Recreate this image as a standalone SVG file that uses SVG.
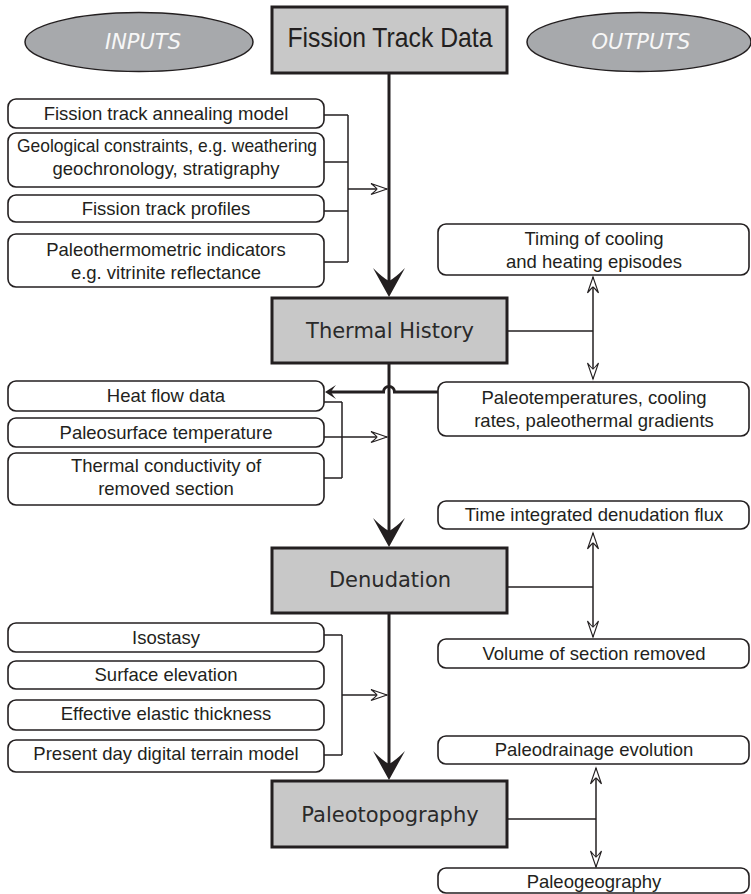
<svg xmlns="http://www.w3.org/2000/svg" width="751" height="894" viewBox="0 0 751 894">
<style>
.main rect{fill:#c8c8c8;stroke:#231f20;stroke-width:3}
.main text{font-family:"DejaVu Sans",Verdana,sans-serif;font-size:21px;fill:#2a2a2a;text-anchor:middle}
.box rect{fill:#fff;stroke:#231f20;stroke-width:1.6}
.box text{font-family:"Liberation Sans",Arial,sans-serif;font-size:18.5px;fill:#231f20;text-anchor:middle}
.oval ellipse{fill:#a7a9ac;stroke:#231f20;stroke-width:1.5}
.oval text{font-family:"DejaVu Sans",Verdana,sans-serif;font-style:italic;font-size:21px;fill:#f7f7f7;text-anchor:middle}
.thick{stroke:#231f20;stroke-width:3;fill:none}
.thin{stroke:#231f20;stroke-width:1.5;fill:none}
</style>
<defs>
<marker id="big" markerUnits="userSpaceOnUse" viewBox="-30 -17 32 34" markerWidth="32" markerHeight="34" refX="-10" refY="0" orient="auto">
<path d="M0,0 L-29,-16 Q-19,-6 -16,0 Q-19,6 -29,16 Z" fill="#231f20"/>
</marker>
<marker id="small" markerUnits="userSpaceOnUse" viewBox="-12 -8 13 16" markerWidth="13" markerHeight="16" refX="-4" refY="0" orient="auto">
<path d="M0,0 L-11,-7 Q-7,-2 -6,0 Q-7,2 -11,7 Z" fill="#231f20"/>
</marker>
<marker id="open" markerUnits="userSpaceOnUse" viewBox="-18 -7 20 14" markerWidth="20" markerHeight="14" refX="0" refY="0" orient="auto-start-reverse">
<path d="M0,0 L-16,-5.5 Q-11,-1.5 -10,0 Q-11,1.5 -16,5.5 Z" fill="#fff" stroke="#231f20" stroke-width="1.1"/>
</marker>
</defs>

<g id="connectors">
<path class="thick" d="M389,73 V287" marker-end="url(#big)"/>
<path class="thick" d="M389,363 V537" marker-end="url(#big)"/>
<path class="thick" d="M389,613 V770" marker-end="url(#big)"/>
<path class="thin" d="M324,115 H348 M324,162 H348 M324,211 H348 M324,262 H348 M348,115 V262"/>
<path class="thin" d="M348,189 H387" marker-end="url(#open)"/>
<path class="thick" d="M438,392 H394.5 A5.5,5.5 0 0 0 383.5,392 H329" marker-end="url(#small)"/>
<path class="thin" d="M324,402 H342 M324,478 H342 M342,402 V478"/>
<path class="thin" d="M324,437 H387" marker-end="url(#open)"/>
<path class="thin" d="M324,635 H342 M324,755 H342 M342,635 V755"/>
<path class="thin" d="M342,695 H387" marker-end="url(#open)"/>
<path class="thin" d="M507,331 H593"/>
<path class="thin" d="M593,277 V379" marker-start="url(#open)" marker-end="url(#open)"/>
<path class="thin" d="M507,587 H593"/>
<path class="thin" d="M593,533 V637" marker-start="url(#open)" marker-end="url(#open)"/>
<path class="thin" d="M507,819 H596"/>
<path class="thin" d="M596,768 V867" marker-start="url(#open)" marker-end="url(#open)"/>
</g>

<g id="inputs" class="oval"><ellipse cx="139" cy="42" rx="114" ry="29.5"/><text x="143" y="49">INPUTS</text></g>
<g id="outputs" class="oval"><ellipse cx="639" cy="42" rx="112" ry="29.5"/><text x="641" y="49">OUTPUTS</text></g>

<g id="fission-track-data" class="main"><rect x="272" y="7" width="235" height="66"/><text x="390" y="47" style="font-family:'Liberation Sans',Arial,sans-serif;font-size:28px;fill:#231f20" textLength="205" lengthAdjust="spacingAndGlyphs">Fission Track Data</text></g>
<g id="thermal-history" class="main"><rect x="272" y="298" width="235" height="65"/><text x="390" y="338">Thermal History</text></g>
<g id="denudation" class="main"><rect x="272" y="548" width="235" height="65"/><text x="390" y="587">Denudation</text></g>
<g id="paleotopography" class="main"><rect x="272" y="781" width="235" height="66"/><text x="390" y="822">Paleotopography</text></g>

<g id="in-annealing" class="box"><rect x="8" y="99" width="316" height="29" rx="8"/><text x="166" y="120">Fission track annealing model</text></g>
<g id="in-geological" class="box"><rect x="8" y="133" width="316" height="54" rx="8"/><text x="167" y="152" textLength="300" lengthAdjust="spacingAndGlyphs">Geological constraints, e.g. weathering</text><text x="166" y="175">geochronology, stratigraphy</text></g>
<g id="in-profiles" class="box"><rect x="8" y="195" width="316" height="27" rx="8"/><text x="166" y="215">Fission track profiles</text></g>
<g id="in-paleothermometric" class="box"><rect x="8" y="234" width="316" height="53" rx="8"/><text x="166" y="256">Paleothermometric indicators</text><text x="166" y="279">e.g. vitrinite reflectance</text></g>

<g id="in-heatflow" class="box"><rect x="8" y="381" width="316" height="30" rx="8"/><text x="166" y="402">Heat flow data</text></g>
<g id="in-paleosurface" class="box"><rect x="8" y="418" width="316" height="29" rx="8"/><text x="166" y="439">Paleosurface temperature</text></g>
<g id="in-conductivity" class="box"><rect x="8" y="453" width="316" height="52" rx="8"/><text x="166" y="472">Thermal conductivity of</text><text x="166" y="495">removed section</text></g>

<g id="in-isostasy" class="box"><rect x="8" y="623" width="316" height="29" rx="8"/><text x="166" y="644">Isostasy</text></g>
<g id="in-elevation" class="box"><rect x="8" y="661" width="316" height="28" rx="8"/><text x="166" y="681">Surface elevation</text></g>
<g id="in-elastic" class="box"><rect x="8" y="700" width="316" height="30" rx="8"/><text x="166" y="720">Effective elastic thickness</text></g>
<g id="in-dtm" class="box"><rect x="8" y="740" width="316" height="32" rx="8"/><text x="166" y="760">Present day digital terrain model</text></g>

<g id="out-timing" class="box"><rect x="438" y="224" width="311" height="51" rx="8"/><text x="594" y="245">Timing of cooling</text><text x="594" y="268">and heating episodes</text></g>
<g id="out-paleotemp" class="box"><rect x="438" y="382" width="311" height="54" rx="8"/><text x="594" y="404">Paleotemperatures, cooling</text><text x="594" y="427">rates, paleothermal gradients</text></g>
<g id="out-flux" class="box"><rect x="438" y="501" width="311" height="28" rx="8"/><text x="594" y="521">Time integrated denudation flux</text></g>
<g id="out-volume" class="box"><rect x="438" y="639" width="311" height="29" rx="8"/><text x="594" y="660">Volume of section removed</text></g>
<g id="out-drainage" class="box"><rect x="438" y="736" width="311" height="28" rx="8"/><text x="594" y="756">Paleodrainage evolution</text></g>
<g id="out-paleogeography" class="box"><rect x="438" y="868" width="311" height="25" rx="8"/><text x="594" y="888">Paleogeography</text></g>
</svg>
